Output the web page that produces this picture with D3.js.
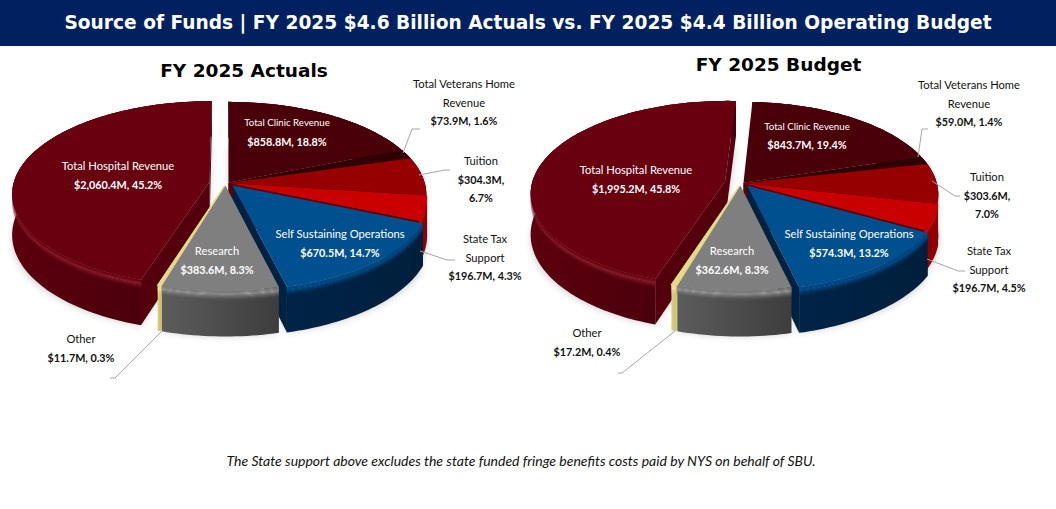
<!DOCTYPE html>
<html>
<head>
<meta charset="utf-8">
<script src="https://cdn.jsdelivr.net/npm/d3@7/dist/d3.min.js"></script>
<style>
  html, body { margin: 0; padding: 0; background: #fff; }
  svg { display: block; }
  .lab { font-family: Lato, "Open Sans", sans-serif; font-size: 11.2px; }
  .val { font-weight: 700; font-size: 10.8px; }
  .head { font-family: "DejaVu Sans", sans-serif; font-weight: 700; }
</style>
</head>
<body>
<svg id="chart" width="1056" height="509"></svg>
<script>
// Source of funds, in millions of dollars, clockwise from the top of each pie.
const categories = ["Total Clinic Revenue", "Total Veterans Home Revenue", "Tuition", "State Tax Support",
  "Self Sustaining Operations", "Research", "Other", "Total Hospital Revenue"];
const actualsValues = [858.8, 73.9, 304.3, 196.7, 670.5, 383.6, 11.7, 2060.4];
const actualsPercents = [18.8, 1.6, 6.7, 4.3, 14.7, 8.3, 0.3, 45.2];
const budgetValues = [843.7, 59.0, 303.6, 196.7, 574.3, 362.6, 17.2, 1995.2];
const budgetPercents = [19.4, 1.4, 7.0, 4.5, 13.2, 8.3, 0.4, 45.8];

// Slice finishes, same order as categories.
const topColors = ["#4a0008", "#2e0005", "#960000", "#c80000", "#00508f", "#7f7f7f", "#e4da8c", "#69000f"];
const wallLeft = ["#3a0006", "#2a0004", "#6e0000", "#8c0000", "#002447", "#5c5c5c", "#d8ce7c", "#5c000d"];
const wallRight = ["#3a0006", "#2a0004", "#7a0000", "#900000", "#001f3c", "#3d3d3d", "#c9bf70", "#41000a"];
const bevelColors = ["#5a0a12", "#3a0a0c", "#a81818", "#d81818", "#00508f", "#9a9a9a", "#f0e8a8", "#8e2030"];
const faceColors = ["#300005", "#200003", "#5c0000", "#5c0008", "#00213f", "#4a4a4a", "#c8be70", "#54000c"];
const explode = [0.004, 0.004, 0.004, 0.008, 0.036, 0.03, 0.03, 0.095];
// Sideways pull on the two front slices, which sit left of the pie's axis.
const sideShift = [0, 0, 0, 0, 0, -0.012, -0.008, 0];
// Text colour per slice, light on the slices that carry their label inside.
const insideLabel = [true, false, false, false, true, true, false, true];

const perspective = 0.125, depth = 40;

const svg = d3.select("#chart");
const defs = svg.append("defs");
defs.append("filter").attr("id", "soft").attr("x", "-10%").attr("y", "-10%").attr("width", "120%").attr("height", "120%")
  .append("feGaussianBlur").attr("stdDeviation", 3);

const line = d3.line();

function drawPie(id, values, percents, geo) {
  const pie = d3.pie().sort(null).value(d => d)
    .startAngle(geo.rotation).endAngle(geo.rotation + 2 * Math.PI);
  const arcs = pie(values);
  const g = svg.append("g").attr("id", id);

  const scale = v => 1 / (1 - perspective * v);
  // Maps a point of the unit disc, plus a drop below the top face, onto the page.
  const project = (u, v, drop) => [
    geo.cx + geo.rx * u * scale(v),
    geo.cy + (geo.ry * v + drop) * scale(v)
  ];
  const apex = i => {
    const mid = (arcs[i].startAngle + arcs[i].endAngle) / 2;
    return [Math.sin(mid) * explode[i] + sideShift[i], -Math.cos(mid) * explode[i]];
  };
  const rimPoint = (i, a, drop) => {
    const [ou, ov] = apex(i);
    return project(ou + Math.sin(a), ov - Math.cos(a), drop);
  };
  const apexPoint = (i, drop) => {
    const [ou, ov] = apex(i);
    return project(ou, ov, drop);
  };
  const rimAngles = (i) => {
    const n = Math.max(2, Math.ceil((arcs[i].endAngle - arcs[i].startAngle) * 40));
    return d3.range(n + 1).map(k => arcs[i].startAngle + (arcs[i].endAngle - arcs[i].startAngle) * k / n);
  };
  const topPath = i => line([apexPoint(i, 0), ...rimAngles(i).map(a => rimPoint(i, a, 0))]) + "Z";
  const band = (i, d0, d1) => line([
    ...rimAngles(i).map(a => rimPoint(i, a, d0)),
    ...rimAngles(i).reverse().map(a => rimPoint(i, a, d1))
  ]) + "Z";

  // Soft cast shadow under the whole pie.
  const shadow = g.append("g").attr("filter", "url(#soft)").attr("opacity", 0.24);
  arcs.forEach((d, i) => {
    shadow.append("path").attr("d", topPath(i)).attr("transform", `translate(0,${depth + 6})`).attr("fill", "#555");
  });

  // Back-to-front painting order.
  const order = [0, 1, 2, 3, 7, 4, 6, 5];
  order.forEach(i => {
    const d = arcs[i];
    const grad = defs.append("linearGradient").attr("id", `${id}-wall-${i}`);
    grad.append("stop").attr("offset", "0%").attr("stop-color", wallLeft[i]);
    grad.append("stop").attr("offset", "100%").attr("stop-color", wallRight[i]);

    const slice = g.append("g");
    // Radial cut faces, only those turned towards the viewer.
    [[d.startAngle, Math.sin(d.startAngle) < 0 ? 1 : 0], [d.endAngle, Math.sin(d.endAngle) > 0 ? 1 : 0]].forEach(([a, show]) => {
      if (!show) return;
      slice.append("path")
        .attr("d", line([apexPoint(i, 0), rimPoint(i, a, 0), rimPoint(i, a, depth), apexPoint(i, depth)]) + "Z")
        .attr("fill", faceColors[i]);
    });
    // Outer wall.
    slice.append("path").attr("d", band(i, 0, depth)).attr("fill", `url(#${id}-wall-${i})`);
    // Rounded bevel between wall and top face.
    const strips = 10, bevel = 9;
    const mid = d3.interpolateRgb(wallLeft[i], wallRight[i])(0.5);
    d3.range(strips).forEach(k => {
      const t = k / strips;
      const color = t < 0.3 ? d3.interpolateRgb(topColors[i], bevelColors[i])(t / 0.3)
        : d3.interpolateRgb(bevelColors[i], mid)((t - 0.3) / 0.7);
      const alpha = t < 0.3 ? 1 : 1 - (t - 0.3) / 0.7;
      slice.append("path").attr("d", band(i, bevel * t, bevel * (t + 1 / strips)))
        .attr("fill", color).attr("opacity", alpha);
    });
    // Top face.
    slice.append("path").attr("d", topPath(i)).attr("fill", topColors[i])
      .attr("stroke", i === 6 ? topColors[i] : "none").attr("stroke-width", i === 6 ? 1.2 : 0);
  });

  // Leader lines from the rim to the outside labels.
  geo.leaders.forEach(pts => {
    g.append("path").attr("d", line(pts)).attr("fill", "none").attr("stroke", "#a6a6a6").attr("stroke-width", 1);
  });

  // Data labels: name lines then the value line.
  categories.forEach((name, i) => {
    const spot = geo.labels[i];
    const value = `$${d3.format(",.1f")(values[i])}M, ${percents[i].toFixed(1)}%`;
    const nameLines = geo.nameBreaks[i] || [name];
    const valueLines = geo.valueBreaks && geo.valueBreaks[i] ? geo.valueBreaks[i](value) : [value];
    const color = insideLabel[i] ? "#fff" : "#111";
    nameLines.concat(valueLines).forEach((txt, k) => {
      const isValue = k >= nameLines.length;
      const t = g.append("text").attr("class", isValue ? "lab val" : "lab")
        .attr("x", spot.x).attr("y", spot.y[k]).attr("dy", "0.35em")
        .attr("text-anchor", "middle").attr("fill", color).text(txt);
      if (!isValue && spot.nameSize) t.style("font-size", spot.nameSize + "px");
    });
  });
}

// Header band.
svg.append("rect").attr("width", 1056).attr("height", 46).attr("fill", "#002060");
svg.append("text").attr("class", "head").attr("x", 528).attr("y", 22).attr("dy", "0.35em")
  .attr("text-anchor", "middle").attr("fill", "#fff").attr("font-size", 18.6)
  .text("Source of Funds | FY 2025 $4.6 Billion Actuals vs. FY 2025 $4.4 Billion Operating Budget");

const splitAfterComma = s => { const p = s.split(", "); return [p[0] + ",", p[1]]; };
const veteranBreak = { 1: ["Total Veterans Home", "Revenue"], 3: ["State Tax", "Support"] };

drawPie("actuals", actualsValues, actualsPercents, {
  cx: 228, cy: 183, rx: 196, ry: 91, rotation: 0,
  nameBreaks: veteranBreak,
  valueBreaks: { 2: splitAfterComma },
  labels: [
    { x: 287, y: [123, 142], nameSize: 9.7 }, { x: 464, y: [84, 103, 121] }, { x: 481, y: [161, 180, 198] },
    { x: 485, y: [239, 258, 276] }, { x: 340, y: [234, 253] }, { x: 217, y: [251, 270] },
    { x: 81, y: [339, 358] }, { x: 118, y: [166, 185] }
  ],
  leaders: [
    [[403, 153], [412, 129], [420, 129]],
    [[419, 175], [445, 170], [450, 170]],
    [[420, 251], [447, 260], [455, 260]],
    [[162, 331], [115, 378], [110, 378]]
  ]
});

drawPie("budget", budgetValues, budgetPercents, {
  cx: 743, cy: 183, rx: 193, ry: 91, rotation: 3 * Math.PI / 180,
  nameBreaks: veteranBreak,
  valueBreaks: { 2: splitAfterComma },
  labels: [
    { x: 807, y: [127, 145], nameSize: 9.7 }, { x: 969, y: [85, 104, 122] }, { x: 987, y: [177, 196, 214] },
    { x: 989, y: [251, 270, 288] }, { x: 849, y: [234, 253] }, { x: 732, y: [251, 270] },
    { x: 587, y: [333, 352] }, { x: 636, y: [170, 189] }
  ],
  leaders: [
    [[918, 157], [922, 129], [928, 129]],
    [[932, 181], [955, 196], [960, 196]],
    [[927, 259], [958, 271], [965, 271]],
    [[675, 331], [622, 373], [618, 373]]
  ]
});

// Chart titles.
svg.append("text").attr("class", "head").attr("x", 244).attr("y", 71).attr("dy", "0.35em")
  .attr("text-anchor", "middle").attr("font-size", 18.5).attr("fill", "#000").text("FY 2025 Actuals");
svg.append("text").attr("class", "head").attr("x", 778.5).attr("y", 65).attr("dy", "0.35em")
  .attr("text-anchor", "middle").attr("font-size", 18.5).attr("fill", "#000").text("FY 2025 Budget");

// Footnote.
svg.append("text").attr("x", 521).attr("y", 461).attr("dy", "0.35em").attr("text-anchor", "middle")
  .attr("font-family", "Lato, sans-serif").attr("font-style", "italic").attr("font-size", 14).attr("fill", "#111")
  .text("The State support above excludes the state funded fringe benefits costs paid by NYS on behalf of SBU.");
</script>
</body>
</html>
